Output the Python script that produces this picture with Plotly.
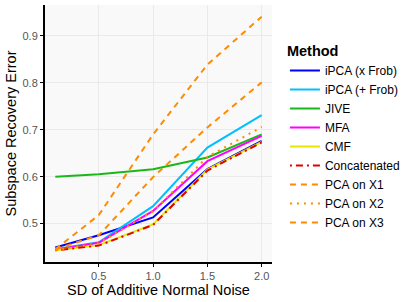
import plotly.graph_objects as go

noise_sd = [0.1, 0.5, 1.0, 1.5, 2.0]

methods = ["iPCA (x Frob)", "iPCA (+ Frob)", "JIVE", "MFA", "CMF",
           "Concatenated", "PCA on X1", "PCA on X2", "PCA on X3"]

ipca_x_frob = [0.449, 0.475, 0.513, 0.616, 0.676]
ipca_plus_frob = [0.445, 0.460, 0.537, 0.662, 0.731]
jive = [0.600, 0.605, 0.616, 0.641, 0.690]
mfa = [0.444, 0.459, 0.527, 0.633, 0.687]
cmf = [0.443, 0.454, 0.498, 0.615, 0.674]
concatenated = [0.443, 0.453, 0.497, 0.613, 0.673]
pca_x1 = [0.445, 0.475, 0.599, 0.705, 0.801]
pca_x2 = [0.443, 0.458, 0.526, 0.642, 0.706]
pca_x3 = [0.445, 0.518, 0.690, 0.839, 0.941]

series = [ipca_x_frob, ipca_plus_frob, jive, mfa, cmf,
          concatenated, pca_x1, pca_x2, pca_x3]
colors = ["#0000FF", "#00BFFF", "#19B819", "#FF00FF", "#E6E600",
          "#E00000", "#FF8C00", "#FF8C00", "#FF8C00"]
dashes = ["solid", "solid", "solid", "solid", "solid",
          "2px,4px,7px,4px", "6px,5px", "2px,5px", "6px,5px"]

fig = go.Figure()
for name, vals, col, dsh in zip(methods, series, colors, dashes):
    fig.add_trace(go.Scatter(
        x=noise_sd, y=vals, mode="lines", name=name,
        line=dict(color=col, width=2, dash=dsh),
    ))

fig.update_layout(
    width=415, height=302,
    margin=dict(l=45, r=143, t=5, b=40, autoexpand=False),
    paper_bgcolor="white",
    plot_bgcolor="#F9F9F9",
    font=dict(family="Liberation Sans, Arial, sans-serif", color="black"),
    showlegend=True,
    legend=dict(
        x=1.057, y=0.875, xanchor="left", yanchor="top",
        title=dict(text="<b>Method</b>", font=dict(size=14.5, color="black")),
        font=dict(size=12, color="black"),
        itemwidth=30,
        bgcolor="rgba(0,0,0,0)",
        tracegroupgap=0,
    ),
    xaxis=dict(
        range=[0.005, 2.095],
        tickvals=[0.5, 1.0, 1.5, 2.0],
        ticktext=["0.5", "1.0", "1.5", "2.0"],
        showgrid=True, gridcolor="#EAEAEA", gridwidth=1,
        zeroline=False, automargin=False,
        showline=True, linecolor="black", linewidth=2,
        ticks="outside", ticklen=3, tickcolor="black", tickwidth=1,
        tickfont=dict(size=11, color="#555555"),
    ),
    yaxis=dict(
        range=[0.418, 0.966],
        tickvals=[0.5, 0.6, 0.7, 0.8, 0.9],
        ticktext=["0.5", "0.6", "0.7", "0.8", "0.9"],
        showgrid=True, gridcolor="#EAEAEA", gridwidth=1,
        zeroline=False, automargin=False,
        showline=True, linecolor="black", linewidth=2,
        ticks="outside", ticklen=3, tickcolor="black", tickwidth=1,
        tickfont=dict(size=11, color="#555555"),
        title=dict(text="Subspace Recovery Error",
                   font=dict(size=14.5, color="black"), standoff=2),
    ),
    annotations=[dict(
        text="SD of Additive Normal Noise", xref="paper", yref="paper",
        x=0.5, y=0, yshift=-28, xanchor="center", yanchor="middle",
        showarrow=False, font=dict(size=14.5, color="black"),
    )],
)

fig.write_html("out.html",
               config={"displayModeBar": False},
               post_script="document.body.style.margin='0';document.body.style.overflow='hidden';")
